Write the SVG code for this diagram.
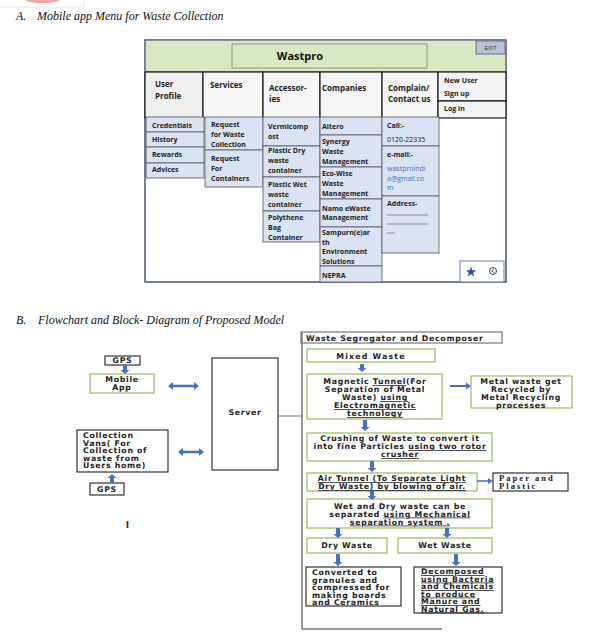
<svg xmlns="http://www.w3.org/2000/svg" width="594" height="638" viewBox="0 0 594 638">
<style>
.cap{font-family:"Liberation Serif",serif;font-style:italic;font-size:12px;fill:#111}
.m{font-family:"Open Sans","Liberation Sans",sans-serif;font-weight:bold;font-size:7px;fill:#222}
.tab{font-family:"Open Sans","Liberation Sans",sans-serif;font-weight:bold;font-size:8px;fill:#222}
.sub{fill:#dae3f3;stroke:#555;stroke-width:0.8}
.tb{fill:#f6f6f6;stroke:#1a1a1a;stroke-width:1.2}
.f{font-family:"DejaVu Sans","Liberation Sans",sans-serif;font-weight:bold;font-size:7.8px;letter-spacing:0.7px;fill:#222}
.fc{text-anchor:middle}
.g{fill:#fff;stroke:#9bbb59;stroke-width:1.2}
.k{fill:#fff;stroke:#333;stroke-width:1.2}
.ba{fill:#4472c4}
.u{text-decoration:underline}
.pp{font-family:"Liberation Serif",serif;font-weight:bold;font-size:8.6px;letter-spacing:2px;fill:#222}
</style>

<!-- top decoration -->
<path d="M25,0 A18,4 0 0 0 60,0 Z" fill="#f4a6a6"/>
<path d="M0,7 H84 V0" fill="none" stroke="#e2e2e2" stroke-width="0.8"/>

<text class="cap" x="16" y="20">A.<tspan x="37">Mobile app Menu for Waste Collection</tspan></text>

<!-- mockup -->
<g id="app-frame">
  <rect x="145" y="40" width="361" height="242" fill="#fff" stroke="#44546a" stroke-width="1.5"/>
  <rect x="145.8" y="40.8" width="359.4" height="31.2" fill="#d7e8c3"/>
  <line x1="145" y1="72" x2="506" y2="72" stroke="#44546a" stroke-width="1"/>
</g>
<g id="title-box">
  <rect x="232" y="44" width="195" height="24" fill="#d7e8c3" stroke="#8a9a7e" stroke-width="1"/>
  <text x="300" y="60" text-anchor="middle" font-family="Open Sans, Liberation Sans, sans-serif" font-weight="bold" font-size="11" fill="#111">Wastpro</text>
</g>
<g id="exit">
  <rect x="476" y="41" width="29" height="13" fill="#b7c3d7" stroke="#5f7391" stroke-width="1"/>
  <text x="490.5" y="49.5" text-anchor="middle" font-family="Liberation Sans, sans-serif" font-size="5.5" fill="#333">EXIT</text>
</g>

<g id="tab-user">
  <rect class="tb" x="145" y="72" width="58" height="46" style="fill:#efefef"/>
  <text class="tab" x="155" y="87">User</text>
  <text class="tab" x="155" y="99">Profile</text>
</g>
<g id="tab-services">
  <rect class="tb" x="203" y="72" width="60" height="46"/>
  <text class="tab" x="210" y="88">Services</text>
</g>
<g id="tab-accessories">
  <rect class="tb" x="263" y="72" width="57" height="46"/>
  <text class="tab" x="269" y="91">Accessor-</text>
  <text class="tab" x="269" y="102">ies</text>
</g>
<g id="tab-companies">
  <rect class="tb" x="320" y="72" width="62" height="46"/>
  <text class="tab" x="322" y="91">Companies</text>
</g>
<g id="tab-contact">
  <rect class="tb" x="382" y="72" width="56" height="46"/>
  <text class="tab" x="388" y="91">Complain/</text>
  <text class="tab" x="388" y="102">Contact us</text>
</g>
<g id="tab-login">
  <rect class="tb" x="438" y="72" width="68" height="29" style="fill:#f3f3f3"/>
  <rect class="tb" x="438" y="101" width="68" height="17" style="fill:#f3f3f3"/>
  <text class="m" x="444" y="83">New User</text>
  <text class="m" x="444" y="96">Sign up</text>
  <text class="m" x="444" y="111">Log in</text>
</g>

<g id="menu-user">
  <rect class="sub" x="146" y="117" width="58" height="15"/>
  <rect class="sub" x="146" y="132" width="58" height="15"/>
  <rect class="sub" x="146" y="147" width="58" height="16"/>
  <rect class="sub" x="146" y="163" width="58" height="15"/>
  <text class="m" x="152" y="128">Credentials</text>
  <text class="m" x="152" y="142">History</text>
  <text class="m" x="152" y="157">Rewards</text>
  <text class="m" x="152" y="172">Advices</text>
</g>
<g id="menu-services">
  <rect class="sub" x="205" y="117" width="58" height="33"/>
  <rect class="sub" x="205" y="150" width="58" height="37"/>
  <text class="m" x="211" y="127">Request</text>
  <text class="m" x="211" y="137">for Waste</text>
  <text class="m" x="211" y="147">Collection</text>
  <text class="m" x="211" y="161">Request</text>
  <text class="m" x="211" y="171">For</text>
  <text class="m" x="211" y="181">Containers</text>
</g>
<g id="menu-accessories">
  <rect class="sub" x="263" y="117" width="57" height="29"/>
  <rect class="sub" x="263" y="146" width="57" height="31"/>
  <rect class="sub" x="263" y="177" width="57" height="34"/>
  <rect class="sub" x="263" y="211" width="57" height="31"/>
  <text class="m" x="268" y="129">Vermicomp</text>
  <text class="m" x="268" y="139">ost</text>
  <text class="m" x="268" y="153">Plastic Dry</text>
  <text class="m" x="268" y="163">waste</text>
  <text class="m" x="268" y="173">container</text>
  <text class="m" x="268" y="187">Plastic Wet</text>
  <text class="m" x="268" y="197">waste</text>
  <text class="m" x="268" y="207">container</text>
  <text class="m" x="268" y="220">Polythene</text>
  <text class="m" x="268" y="230">Bag</text>
  <text class="m" x="268" y="240">Container</text>
</g>
<g id="menu-companies">
  <rect class="sub" x="320" y="117" width="62" height="18"/>
  <rect class="sub" x="320" y="135" width="62" height="32"/>
  <rect class="sub" x="320" y="167" width="62" height="32"/>
  <rect class="sub" x="320" y="199" width="62" height="28"/>
  <rect class="sub" x="320" y="227" width="62" height="39"/>
  <rect class="sub" x="320" y="266" width="62" height="16"/>
  <text class="m" x="322" y="129">Altero</text>
  <text class="m" x="322" y="144">Synergy</text>
  <text class="m" x="322" y="154">Waste</text>
  <text class="m" x="322" y="164">Management</text>
  <text class="m" x="322" y="176">Eco-Wise</text>
  <text class="m" x="322" y="186">Waste</text>
  <text class="m" x="322" y="196">Management</text>
  <text class="m" x="322" y="211">Namo eWaste</text>
  <text class="m" x="322" y="220">Management</text>
  <text class="m" x="322" y="235">Sampurn(e)ar</text>
  <text class="m" x="322" y="245">th</text>
  <text class="m" x="322" y="254">Environment</text>
  <text class="m" x="322" y="264">Solutions</text>
  <text class="m" x="322" y="278">NEPRA</text>
</g>
<g id="menu-contact">
  <rect class="sub" x="382" y="117" width="57" height="29"/>
  <rect class="sub" x="382" y="146" width="57" height="50"/>
  <rect class="sub" x="382" y="196" width="57" height="57"/>
  <text class="m" x="387" y="128">Call:-</text>
  <text class="m" x="387" y="142" style="font-weight:normal">0120-22335</text>
  <text class="m" x="387" y="157">e-mail:-</text>
  <text class="m" x="387" y="171" style="font-weight:normal;fill:#4472c4">wastproindi</text>
  <text class="m" x="387" y="181" style="font-weight:normal;fill:#4472c4">a@gmail.co</text>
  <text class="m" x="387" y="190" style="font-weight:normal;fill:#4472c4">m</text>
  <text class="m" x="387" y="206">Address-</text>
  <line x1="387" y1="215" x2="428" y2="215" stroke="#555" stroke-width="0.6"/>
  <line x1="387" y1="224" x2="428" y2="224" stroke="#555" stroke-width="0.6"/>
  <line x1="387" y1="233" x2="395" y2="233" stroke="#555" stroke-width="0.6"/>
</g>
<g id="icons">
  <rect x="460" y="261" width="44" height="21" fill="#fff" stroke="#6a7fa0" stroke-width="1"/>
  <polygon points="471,266.5 472.35,270.14 476.23,270.3 473.19,272.71 474.23,276.45 471,274.3 467.77,276.45 468.81,272.71 465.77,270.3 469.65,270.14" fill="#2f5597"/>
  <circle cx="493" cy="271" r="3.5" fill="none" stroke="#333" stroke-width="0.9"/>
  <path d="M494.5,269 L491.5,271 L494.5,273" fill="none" stroke="#333" stroke-width="0.8"/>
</g>

<text class="cap" x="16" y="324">B.<tspan x="38">Flowchart and Block- Diagram of Proposed Model</tspan></text>

<!-- left block diagram -->
<g id="gps1">
  <rect class="k" x="105" y="356" width="35" height="9"/>
  <text class="f fc" x="122.5" y="363.3">GPS</text>
</g>
<g id="mobile-app">
  <rect class="g" x="90" y="374" width="64" height="19"/>
  <text class="f fc" x="122" y="382">Mobile</text>
  <text class="f fc" x="122" y="390">App</text>
</g>
<g id="server">
  <rect class="k" x="212" y="358" width="66" height="112"/>
  <text class="f fc" x="245" y="415">Server</text>
</g>
<g id="vans">
  <rect class="k" x="77" y="430" width="91" height="42"/>
  <text class="f" x="83" y="438">Collection</text>
  <text class="f" x="83" y="445.5">Vans( For</text>
  <text class="f" x="83" y="453">Collection of</text>
  <text class="f" x="83" y="460.5">waste from</text>
  <text class="f" x="83" y="468">Users home)</text>
</g>
<g id="gps2">
  <rect class="k" x="90" y="483" width="34" height="12"/>
  <text class="f fc" x="107" y="492">GPS</text>
</g>
<text class="f" x="126" y="528" style="font-size:8px">I</text>

<!-- right flowchart -->
<g id="segregator">
  <rect x="301" y="332" width="201" height="11" fill="#fff" stroke="#777" stroke-width="1.2"/>
  <text class="f" x="306" y="340.8">Waste Segregator and Decomposer</text>
</g>
<g id="mixed">
  <rect class="g" x="307" y="349" width="128" height="13"/>
  <text class="f fc" x="371" y="358.8" style="letter-spacing:1.2px">Mixed Waste</text>
</g>
<g id="magnetic">
  <rect class="g" x="307" y="374" width="135" height="45"/>
  <text class="f fc" x="375" y="384">Magnetic <tspan class="u">Tunnel</tspan>(For</text>
  <text class="f fc" x="375" y="392">Separation of Metal</text>
  <text class="f fc" x="375" y="400">Waste) <tspan class="u">using</tspan></text>
  <text class="f fc" x="375" y="408" text-decoration="underline">Electromagnetic</text>
  <text class="f fc" x="375" y="416" text-decoration="underline">technology</text>
</g>
<g id="metal">
  <rect class="g" x="471" y="376" width="101" height="32"/>
  <text class="f fc" x="521" y="384">Metal waste get</text>
  <text class="f fc" x="521" y="392">Recycled by</text>
  <text class="f fc" x="521" y="400">Metal Recycling</text>
  <text class="f fc" x="521" y="407.5">processes</text>
</g>
<g id="crushing">
  <rect class="g" x="307" y="433" width="185" height="28"/>
  <text class="f fc" x="400" y="441">Crushing of Waste to convert it</text>
  <text class="f fc" x="400" y="449">into fine Particles <tspan class="u">using two rotor</tspan></text>
  <text class="f fc" x="400" y="457" text-decoration="underline">crusher</text>
</g>
<g id="air">
  <rect class="g" x="307" y="473" width="170" height="18"/>
  <text class="f fc" x="392" y="481" text-decoration="underline">Air Tunnel (To Separate Light</text>
  <text class="f fc" x="392" y="489" text-decoration="underline">Dry Waste) by blowing of air.</text>
</g>
<g id="paper">
  <rect class="k" x="493" y="473" width="75" height="18"/>
  <text class="pp" x="499" y="480.6">Paper and</text>
  <text class="pp" x="499" y="489.2">Plastic</text>
</g>
<g id="wetdry">
  <rect class="g" x="307" y="499" width="185" height="29"/>
  <text class="f fc" x="400" y="508.5">Wet and Dry waste can be</text>
  <text class="f fc" x="400" y="516.5">separated <tspan class="u">using Mechanical</tspan></text>
  <text class="f fc" x="400" y="524.5" text-decoration="underline">separation system .</text>
</g>
<g id="dry">
  <rect class="g" x="307" y="538" width="80" height="15"/>
  <text class="f fc" x="347" y="548.3">Dry Waste</text>
</g>
<g id="wet">
  <rect class="g" x="398" y="538" width="94" height="15"/>
  <text class="f fc" x="445" y="548.3">Wet Waste</text>
</g>
<g id="converted">
  <rect class="k" x="306" y="567" width="95" height="39"/>
  <text class="f" x="312" y="575">Converted to</text>
  <text class="f" x="312" y="582.5">granules and</text>
  <text class="f" x="312" y="590">compressed for</text>
  <text class="f" x="312" y="597.5">making boards</text>
  <text class="f" x="312" y="605">and Ceramics</text>
</g>
<g id="decomposed">
  <rect class="k" x="414" y="567" width="88" height="46"/>
  <text class="f" x="421" y="574" text-decoration="underline">Decomposed</text>
  <text class="f" x="421" y="581.5" text-decoration="underline">using Bacteria</text>
  <text class="f" x="421" y="589" text-decoration="underline">and Chemicals</text>
  <text class="f" x="421" y="596.5" text-decoration="underline">to produce</text>
  <text class="f" x="421" y="604" text-decoration="underline">Manure and</text>
  <text class="f" x="421" y="611.5" text-decoration="underline">Natural Gas.</text>
</g>

<g id="connectors">
  <path d="M302,332 V629 H442" fill="none" stroke="#777" stroke-width="1.5"/>
  <line x1="278" y1="416" x2="302" y2="416" stroke="#777" stroke-width="1"/>
  <path class="ba" d="M123,365 h4 v5 h2.5 l-4.5,4 l-4.5,-4 h2.5 z"/>
  <path class="ba" d="M360,364 h4 v4 h2.5 l-4.5,4 l-4.5,-4 h2.5 z"/>
  <path class="ba" d="M363,420 h4 v7 h2.5 l-4.5,4 l-4.5,-4 h2.5 z"/>
  <path class="ba" d="M370,461 h4 v7 h2.5 l-4.5,4 l-4.5,-4 h2.5 z"/>
  <path class="ba" d="M370,491 h4 v5 h2.5 l-4.5,4 l-4.5,-4 h2.5 z"/>
  <path class="ba" d="M336,528 h4 v6 h2.5 l-4.5,4 l-4.5,-4 h2.5 z"/>
  <path class="ba" d="M445,528 h4 v6 h2.5 l-4.5,4 l-4.5,-4 h2.5 z"/>
  <path class="ba" d="M336,554 h4 v8 h2.5 l-4.5,4 l-4.5,-4 h2.5 z"/>
  <path class="ba" d="M454,554 h4 v8 h2.5 l-4.5,4 l-4.5,-4 h2.5 z"/>
  <path class="ba" d="M110,483 h4 v-5 h2.5 l-4.5,-4 l-4.5,4 h2.5 z"/>
  <path class="ba" d="M450,385 h16 v-2.5 l5,3.5 l-5,3.5 v-2.5 h-16 z"/>
  <line x1="477" y1="481" x2="489" y2="481" stroke="#4472c4" stroke-width="1.5"/>
  <path class="ba" d="M488,478 l5,3 l-5,3 z"/>
  <path class="ba" d="M168,386 l5,-4 v2.7 h21 v-2.7 l5,4 l-5,4 v-2.7 h-21 v2.7 z"/>
  <path class="ba" d="M178,452 l5,-4 v2.7 h16 v-2.7 l5,4 l-5,4 v-2.7 h-16 v2.7 z"/>
</g>
</svg>
